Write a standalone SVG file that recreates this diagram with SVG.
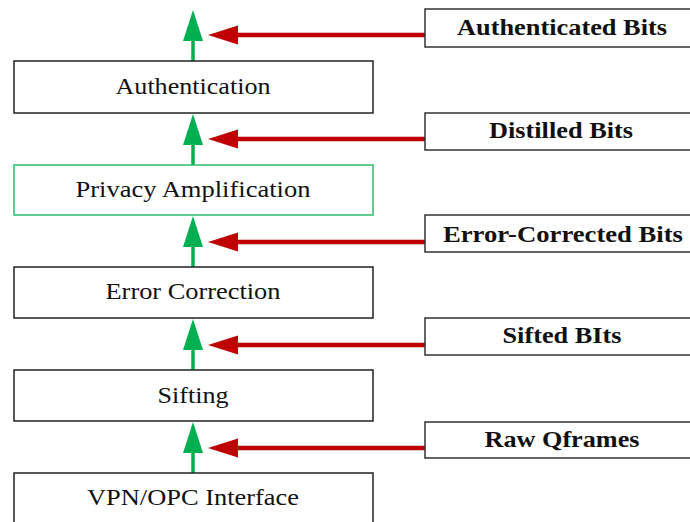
<svg xmlns="http://www.w3.org/2000/svg" width="690" height="522" viewBox="0 0 690 522">
<defs>
<style>
.box{fill:#fff;stroke:#222;stroke-width:1.5}
.pbox{fill:#fff;stroke:#2dbb6a;stroke-width:1.5}
.rbox{fill:#fff;stroke:#333;stroke-width:1.5}
.lt{font-family:"Liberation Serif","Times New Roman",serif;font-size:23px;fill:#111;text-anchor:middle}
.rt{font-family:"Liberation Serif","Times New Roman",serif;font-size:23px;font-weight:bold;fill:#111;text-anchor:middle}
.g{stroke:#00b050;stroke-width:3.5;fill:none}
.gh{fill:#00b050}
.r{stroke:#c00000;stroke-width:4.5;fill:none}
.rh{fill:#c00000}
</style>
</defs>
<g id="connectors">
<line class="g" x1="193" y1="61" x2="193" y2="38"/><polygon class="gh" points="193,10 203,41 183,41"/>
<line class="g" x1="193" y1="165" x2="193" y2="142"/><polygon class="gh" points="193,114 203,145 183,145"/>
<line class="g" x1="193" y1="267" x2="193" y2="244"/><polygon class="gh" points="193,216 203,247 183,247"/>
<line class="g" x1="193" y1="370" x2="193" y2="347"/><polygon class="gh" points="193,319 203,350 183,350"/>
<line class="g" x1="193" y1="473" x2="193" y2="450"/><polygon class="gh" points="193,422 203,453 183,453"/>
<line class="r" x1="425" y1="35" x2="235" y2="35"/><polygon class="rh" points="208,35 238,25.5 238,44.5"/>
<line class="r" x1="425" y1="139" x2="235" y2="139"/><polygon class="rh" points="208,139 238,129.5 238,148.5"/>
<line class="r" x1="425" y1="242" x2="235" y2="242"/><polygon class="rh" points="208,242 238,232.5 238,251.5"/>
<line class="r" x1="425" y1="345" x2="235" y2="345"/><polygon class="rh" points="208,345 238,335.5 238,354.5"/>
<line class="r" x1="425" y1="448" x2="235" y2="448"/><polygon class="rh" points="208,448 238,438.5 238,457.5"/>
</g>
<g id="authentication"><rect class="box" x="14" y="61" width="359" height="52"/><text class="lt" x="193" y="94" textLength="155" lengthAdjust="spacingAndGlyphs">Authentication</text></g>
<g id="privacy-amplification"><rect class="pbox" x="14" y="165" width="359" height="50"/><text class="lt" x="193" y="197" textLength="235" lengthAdjust="spacingAndGlyphs">Privacy Amplification</text></g>
<g id="error-correction"><rect class="box" x="14" y="267" width="359" height="51"/><text class="lt" x="193" y="299" textLength="175" lengthAdjust="spacingAndGlyphs">Error Correction</text></g>
<g id="sifting"><rect class="box" x="14" y="370" width="359" height="51"/><text class="lt" x="193" y="403" textLength="71" lengthAdjust="spacingAndGlyphs">Sifting</text></g>
<g id="vpn-opc-interface"><rect class="box" x="14" y="473" width="359" height="60"/><text class="lt" x="193" y="505" textLength="212" lengthAdjust="spacingAndGlyphs">VPN/OPC Interface</text></g>
<g id="authenticated-bits"><rect class="rbox" x="425" y="9" width="280" height="38"/><text class="rt" x="562" y="35" textLength="210" lengthAdjust="spacingAndGlyphs">Authenticated Bits</text></g>
<g id="distilled-bits"><rect class="rbox" x="425" y="113" width="280" height="37"/><text class="rt" x="561" y="138" textLength="144" lengthAdjust="spacingAndGlyphs">Distilled Bits</text></g>
<g id="error-corrected-bits"><rect class="rbox" x="425" y="215" width="280" height="37"/><text class="rt" x="563" y="242" textLength="240" lengthAdjust="spacingAndGlyphs">Error-Corrected Bits</text></g>
<g id="sifted-bits"><rect class="rbox" x="425" y="318" width="280" height="37"/><text class="rt" x="562" y="343" textLength="119" lengthAdjust="spacingAndGlyphs">Sifted BIts</text></g>
<g id="raw-qframes"><rect class="rbox" x="425" y="422" width="280" height="36"/><text class="rt" x="562" y="447" textLength="155" lengthAdjust="spacingAndGlyphs">Raw Qframes</text></g>
</svg>
